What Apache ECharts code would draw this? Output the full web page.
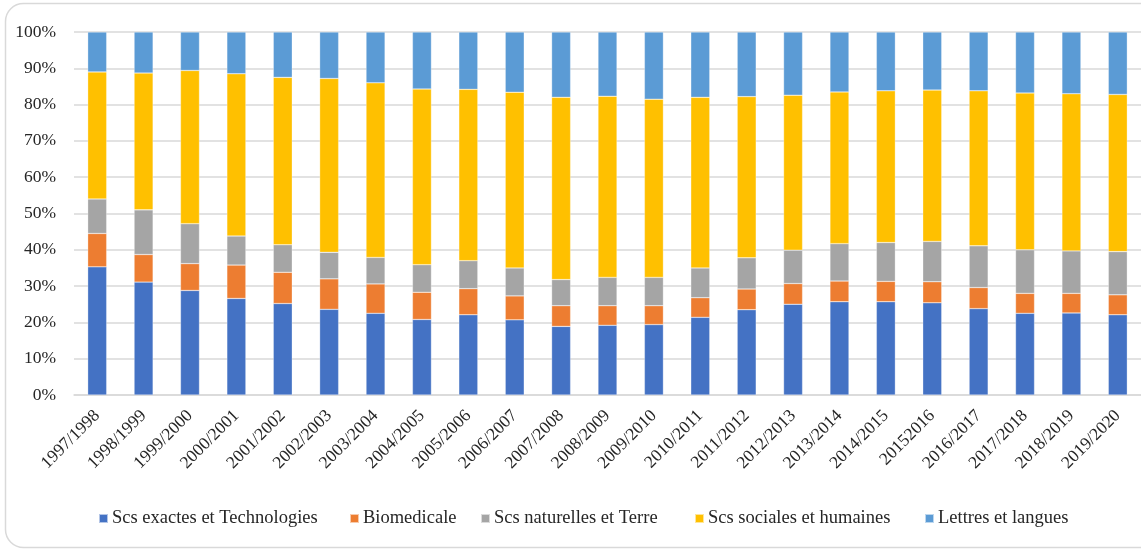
<!DOCTYPE html>
<html>
<head>
<meta charset="utf-8">
<script src="https://cdn.jsdelivr.net/npm/echarts@6/dist/echarts.min.js"></script>
<style>
  html, body { margin: 0; padding: 0; background: #fff; }
  #chart { width: 1141px; height: 550px; }
</style>
</head>
<body>
<div id="chart"></div>
<script>
// Academic years
const years = [
  '1997/1998', '1998/1999', '1999/2000', '2000/2001', '2001/2002', '2002/2003',
  '2003/2004', '2004/2005', '2005/2006', '2006/2007', '2007/2008', '2008/2009',
  '2009/2010', '2010/2011', '2011/2012', '2012/2013', '2013/2014', '2014/2015',
  '20152016', '2016/2017', '2017/2018', '2018/2019', '2019/2020'
];

// Share of each field per year (%)
const scsExactes = [35.3, 31.1, 28.8, 26.6, 25.2, 23.6, 22.5, 20.8, 22.1, 20.7, 18.9, 19.2,
                    19.4, 21.4, 23.5, 25.0, 25.7, 25.7, 25.4, 23.8, 22.5, 22.6, 22.1];
const biomedicale = [9.2, 7.6, 7.4, 9.2, 8.6, 8.4, 8.1, 7.5, 7.2, 6.6, 5.7, 5.4,
                     5.2, 5.4, 5.7, 5.7, 5.7, 5.6, 5.8, 5.8, 5.5, 5.4, 5.5];
const scsNaturelles = [9.5, 12.3, 11.0, 8.0, 7.6, 7.3, 7.3, 7.6, 7.7, 7.7, 7.2, 7.8,
                       7.8, 8.2, 8.6, 9.2, 10.3, 10.7, 11.1, 11.5, 12.0, 11.7, 11.9];
const scsSociales = [35.0, 37.7, 42.2, 44.7, 46.1, 47.9, 48.1, 48.4, 47.2, 48.4, 50.2, 49.9,
                     49.1, 47.0, 44.4, 42.7, 41.8, 41.8, 41.7, 42.7, 43.2, 43.3, 43.3];
const lettres = [11.0, 11.3, 10.6, 11.5, 12.5, 12.8, 14.0, 15.7, 15.8, 16.6, 18.0, 17.7,
                 18.5, 18.0, 17.8, 17.4, 16.5, 16.2, 16.0, 16.2, 16.8, 17.0, 17.2];

const seriesDefs = [
  { name: 'Scs exactes et Technologies', data: scsExactes, color: '#4472C4' },
  { name: 'Biomedicale', data: biomedicale, color: '#ED7D31' },
  { name: 'Scs naturelles et Terre', data: scsNaturelles, color: '#A5A5A5' },
  { name: 'Scs sociales et humaines', data: scsSociales, color: '#FFC000' },
  { name: 'Lettres et langues', data: lettres, color: '#5B9BD5' }
];

// Horizontal start of each legend entry
const legendLeft = [98, 349, 480, 694, 924];

const FONT = '"Liberation Serif", "Times New Roman", serif';
const TEXT = '#262626';

const chart = echarts.init(document.getElementById('chart'), null, { renderer: 'canvas' });

chart.setOption({
  animation: false,
  backgroundColor: '#ffffff',
  graphic: [{
    type: 'rect',
    shape: { x: 5.5, y: 3.5, width: 1160, height: 544, r: 18 },
    style: { fill: 'none', stroke: '#d9d9d9', lineWidth: 1.5 },
    z: -1
  }],
  grid: { left: 74, right: -6, top: 32, bottom: 155 },
  legend: seriesDefs.map((s, i) => ({
    top: 509,
    left: legendLeft[i],
    icon: 'rect',
    itemWidth: 9,
    itemHeight: 9,
    itemGap: 0,
    padding: 0,
    textStyle: { fontFamily: FONT, fontSize: 18.5, color: TEXT, padding: [0, 0, 0, -1] },
    data: [s.name]
  })),
  xAxis: {
    type: 'category',
    data: years,
    axisLine: { lineStyle: { color: '#d9d9d9', width: 1.5 } },
    axisTick: { show: false },
    axisLabel: {
      interval: 0,
      rotate: 45,
      margin: 18,
      fontFamily: FONT,
      fontSize: 17.5,
      color: TEXT
    }
  },
  yAxis: {
    type: 'value',
    min: 0,
    max: 100,
    interval: 10,
    axisLine: { show: false },
    axisTick: { show: false },
    splitLine: { lineStyle: { color: '#d9d9d9', width: 1.5 } },
    axisLabel: {
      formatter: '{value}%',
      margin: 18,
      fontFamily: FONT,
      fontSize: 17.5,
      color: TEXT
    }
  },
  series: seriesDefs.map(s => ({
    name: s.name,
    type: 'bar',
    stack: 'total',
    barWidth: 19,
    data: s.data,
    itemStyle: { color: s.color, borderColor: 'rgba(255,255,255,0.6)', borderWidth: 0.5 }
  }))
});
</script>
</body>
</html>
